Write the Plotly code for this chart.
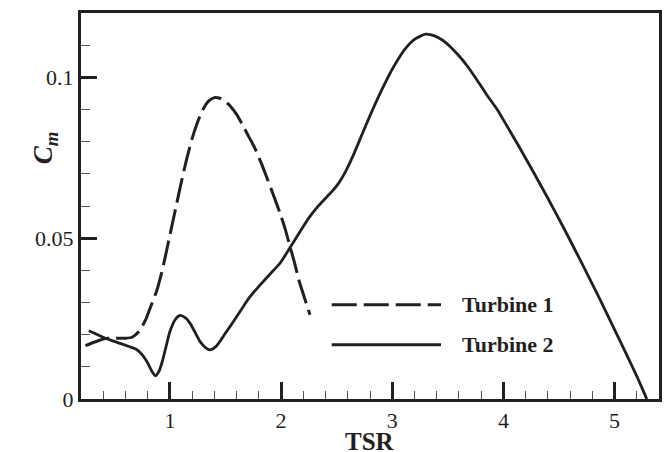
import plotly.graph_objects as go

# Turbine 1 (dashed)
t1_x = [0.24, 0.33, 0.42, 0.51, 0.60, 0.66, 0.72, 0.78, 0.83, 0.88, 0.92, 0.96, 1.00, 1.05,
        1.10, 1.15, 1.20, 1.25, 1.30, 1.35, 1.40, 1.45, 1.50, 1.54, 1.60, 1.66, 1.71, 1.76,
        1.82, 1.87, 1.93, 1.99, 2.04, 2.08, 2.12, 2.16, 2.21, 2.26]
t1_y = [0.0166, 0.0178, 0.0188, 0.0189, 0.0189, 0.0192, 0.0210, 0.0245, 0.0290, 0.0335,
        0.0385, 0.0445, 0.0510, 0.0590, 0.0670, 0.0745, 0.0810, 0.0862, 0.0902, 0.0927,
        0.0937, 0.0935, 0.0925, 0.0912, 0.0885, 0.0848, 0.0815, 0.0783, 0.0735, 0.0690,
        0.0635, 0.0578, 0.0525, 0.0474, 0.0425, 0.0370, 0.0315, 0.0262]

# Turbine 2 (solid)
t2_x = [0.27, 0.42, 0.56, 0.70, 0.75, 0.80, 0.84, 0.87, 0.90, 0.93, 0.97, 1.00, 1.05, 1.09,
        1.14, 1.18, 1.23, 1.27, 1.32, 1.36, 1.41, 1.45, 1.50, 1.57, 1.65, 1.72, 1.80, 1.90,
        1.99, 2.08, 2.17, 2.25, 2.33, 2.40, 2.46, 2.52, 2.58, 2.65, 2.73, 2.80, 2.85, 2.90,
        2.95, 3.00, 3.06, 3.12, 3.20, 3.30, 3.38, 3.45, 3.52, 3.60, 3.68, 3.77, 3.85, 3.94,
        4.03, 4.13, 4.25, 4.40, 4.55, 4.70, 4.85, 5.00, 5.10, 5.20, 5.29]
t2_y = [0.0212, 0.0189, 0.0172, 0.0154, 0.0138, 0.0112, 0.0085, 0.0072, 0.0085, 0.0115,
        0.0170, 0.0210, 0.0248, 0.0260, 0.0252, 0.0236, 0.0205, 0.0179, 0.0160, 0.0153,
        0.0162, 0.0179, 0.0205, 0.0240, 0.0282, 0.0318, 0.0350, 0.0388, 0.0422, 0.0470,
        0.0520, 0.0563, 0.0598, 0.0624, 0.0646, 0.0672, 0.0707, 0.0758, 0.0824, 0.0881,
        0.0920, 0.0957, 0.0992, 0.1025, 0.1060, 0.1090, 0.1118, 0.1134, 0.1129, 0.1116,
        0.1096, 0.1067, 0.1033, 0.0988, 0.0946, 0.0902, 0.0850, 0.0791, 0.0718, 0.0624,
        0.0527, 0.0426, 0.0323, 0.0216, 0.0144, 0.0071, 0.0]

x_ticks = [1, 2, 3, 4, 5]
y_ticks = [0, 0.05, 0.1]
y_tick_text = ["0", "0.05", "0.1"]
legend_names = ["Turbine 1", "Turbine 2"]

INK = "#231f20"
FONT = "Liberation Serif"

fig = go.Figure()
fig.add_trace(go.Scatter(x=t1_x, y=t1_y, mode="lines", name=legend_names[0],
                         line=dict(color=INK, width=3, dash="25px,7px", shape="spline", smoothing=0.6)))
fig.add_trace(go.Scatter(x=t2_x, y=t2_y, mode="lines", name=legend_names[1],
                         line=dict(color=INK, width=2.8, shape="spline", smoothing=0.6)))

fig.update_layout(
    width=670, height=452,
    margin=dict(l=81, r=8, t=13, b=53),
    paper_bgcolor="white", plot_bgcolor="white",
    showlegend=False,
    font=dict(family=FONT, size=22, color=INK),
)
fig.update_xaxes(range=[0.2, 5.4], tickvals=x_ticks, ticks="inside", ticklen=17, tickwidth=3,
                 tickcolor=INK, showline=True, linecolor=INK, linewidth=3, mirror=True,
                 showgrid=False, zeroline=False,
                 minor=dict(ticks="inside", ticklen=8, tickwidth=1.3, tickcolor="#555", dtick=0.2, showgrid=False),
                 tickfont=dict(family=FONT, size=22, color=INK))
fig.update_yaxes(range=[0, 0.12], tickvals=y_ticks, ticktext=y_tick_text, ticks="inside", ticklen=16,
                 tickwidth=3, tickcolor=INK, showline=True, linecolor=INK, linewidth=3, mirror=True,
                 showgrid=False, zeroline=False,
                 minor=dict(ticks="inside", ticklen=9, tickwidth=1.3, tickcolor="#555", dtick=0.01, showgrid=False),
                 tickfont=dict(family=FONT, size=22, color=INK))

# axis titles
fig.add_annotation(xref="paper", yref="paper", x=0.5, y=-0.109, yanchor="middle", showarrow=False,
                   borderpad=0,
                   text="<b>TSR</b>", font=dict(family=FONT, size=25, color=INK))
fig.add_annotation(xref="paper", x=-0.095, yref="paper", y=0.65, showarrow=False, textangle=-90,
                   text="<b><i>C</i></b><sub><b><i>m</i></b></sub>", font=dict(family=FONT, size=27, color=INK))

# legend drawn inside the plot
leg_y = [0.2439, 0.1405]
dashes = ["25px,7px", "solid"]
for name, ly, d in zip(legend_names, leg_y, dashes):
    fig.add_shape(type="line", xref="paper", yref="paper", x0=0.4338, x1=0.6229, y0=ly, y1=ly,
                  line=dict(color=INK, width=3, dash=d))
    fig.add_annotation(xref="paper", yref="paper", x=0.6556, y=ly, xanchor="left", yanchor="middle",
                       showarrow=False, text="<b>" + name + "</b>", font=dict(family=FONT, size=22, color=INK))

fig.write_html("out.html")
